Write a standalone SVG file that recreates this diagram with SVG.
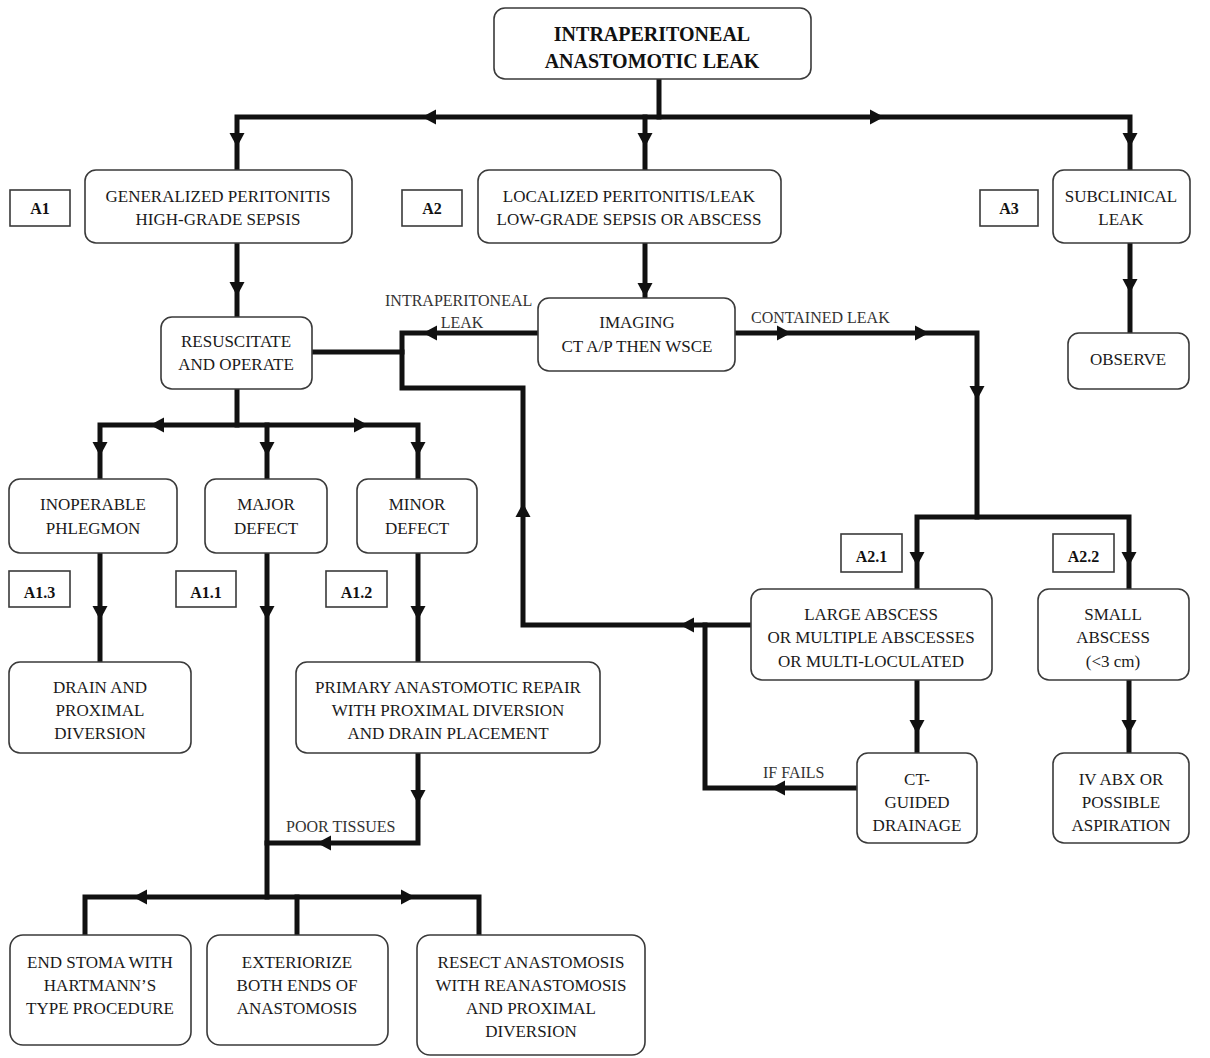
<svg xmlns="http://www.w3.org/2000/svg" xmlns:xlink="http://www.w3.org/1999/xlink" width="1210" height="1058" viewBox="0 0 1210 1058">
<style>
.box{fill:#fff;stroke:#3a3a3a;stroke-width:1.6}
.lab{fill:#fff;stroke:#3a3a3a;stroke-width:1.6}
.t{font-family:"Liberation Serif","Times New Roman",serif;font-size:17px;fill:#1a1a1a;text-anchor:middle}
.tb{font-family:"Liberation Serif","Times New Roman",serif;font-size:16px;font-weight:bold;fill:#111;text-anchor:middle}
.title{font-family:"Liberation Serif","Times New Roman",serif;font-size:20px;font-weight:bold;fill:#111;text-anchor:middle}
.cl{font-family:"Liberation Serif","Times New Roman",serif;font-size:16px;fill:#333}
.ln{fill:none;stroke:#111;stroke-width:5;stroke-linejoin:miter;stroke-linecap:square}
.ah{fill:#111}
</style>
<defs>
<path id="ah" d="M0,0 L-14,-7.5 L-14,7.5 Z"/>
</defs>
<rect width="1210" height="1058" fill="#fff"/>
<g id="connectors">
<path class="ln" d="M659,80 V117"/>
<path class="ln" d="M237,168 V117 H1130 V168"/>
<path class="ln" d="M645,117 V168"/>
<path class="ln" d="M237,245 V315"/>
<path class="ln" d="M645,245 V296"/>
<path class="ln" d="M1130,245 V331"/>
<path class="ln" d="M314,352 H402"/>
<path class="ln" d="M536,333 H402 V388 H523 V625 H749"/>
<path class="ln" d="M737,333 H977 V517"/>
<path class="ln" d="M917,587 V517 H1129 V587"/>
<path class="ln" d="M855,788 H705 V625"/>
<path class="ln" d="M917,682 V751"/>
<path class="ln" d="M1129,682 V751"/>
<path class="ln" d="M237,391 V425"/>
<path class="ln" d="M100,477 V425 H418 V477"/>
<path class="ln" d="M267,425 V477"/>
<path class="ln" d="M100,555 V660"/>
<path class="ln" d="M267,555 V897"/>
<path class="ln" d="M418,555 V660"/>
<path class="ln" d="M418,755 V843 H267"/>
<path class="ln" d="M85,933 V897 H479 V933"/>
<path class="ln" d="M297,897 V933"/>
<g class="ah">
<use xlink:href="#ah" transform="translate(422,117) rotate(180)"/>
<use xlink:href="#ah" transform="translate(884,117)"/>
<use xlink:href="#ah" transform="translate(237,147) rotate(90)"/>
<use xlink:href="#ah" transform="translate(645,147) rotate(90)"/>
<use xlink:href="#ah" transform="translate(1130,147) rotate(90)"/>
<use xlink:href="#ah" transform="translate(237,296) rotate(90)"/>
<use xlink:href="#ah" transform="translate(645,297) rotate(90)"/>
<use xlink:href="#ah" transform="translate(1130,293) rotate(90)"/>
<use xlink:href="#ah" transform="translate(423,333) rotate(180)"/>
<use xlink:href="#ah" transform="translate(791,333)"/>
<use xlink:href="#ah" transform="translate(929,333)"/>
<use xlink:href="#ah" transform="translate(977,400) rotate(90)"/>
<use xlink:href="#ah" transform="translate(917,566) rotate(90)"/>
<use xlink:href="#ah" transform="translate(1129,566) rotate(90)"/>
<use xlink:href="#ah" transform="translate(523,503) rotate(-90)"/>
<use xlink:href="#ah" transform="translate(680,625) rotate(180)"/>
<use xlink:href="#ah" transform="translate(771,788) rotate(180)"/>
<use xlink:href="#ah" transform="translate(917,734) rotate(90)"/>
<use xlink:href="#ah" transform="translate(1129,734) rotate(90)"/>
<use xlink:href="#ah" transform="translate(150,425) rotate(180)"/>
<use xlink:href="#ah" transform="translate(368,425)"/>
<use xlink:href="#ah" transform="translate(100,456) rotate(90)"/>
<use xlink:href="#ah" transform="translate(267,456) rotate(90)"/>
<use xlink:href="#ah" transform="translate(418,456) rotate(90)"/>
<use xlink:href="#ah" transform="translate(100,620) rotate(90)"/>
<use xlink:href="#ah" transform="translate(267,620) rotate(90)"/>
<use xlink:href="#ah" transform="translate(418,620) rotate(90)"/>
<use xlink:href="#ah" transform="translate(418,804) rotate(90)"/>
<use xlink:href="#ah" transform="translate(317,843) rotate(180)"/>
<use xlink:href="#ah" transform="translate(133,897) rotate(180)"/>
<use xlink:href="#ah" transform="translate(415,897)"/>
</g>
<text class="cl" x="385" y="306">INTRAPERITONEAL</text>
<text class="cl" x="462" y="328" text-anchor="middle">LEAK</text>
<text class="cl" x="751" y="323">CONTAINED LEAK</text>
<text class="cl" x="763" y="778">IF FAILS</text>
<text class="cl" x="286" y="832">POOR TISSUES</text>
</g>
<g id="n-top"><rect class="box" x="494" y="8" width="317" height="71" rx="11"/>
<text class="title" x="652" y="41">INTRAPERITONEAL</text><text class="title" x="652" y="68">ANASTOMOTIC LEAK</text></g>
<g id="n-a1"><rect class="box" x="85" y="170" width="267" height="73" rx="11"/>
<text class="t" x="218" y="202">GENERALIZED PERITONITIS</text><text class="t" x="218" y="225">HIGH-GRADE SEPSIS</text></g>
<g id="n-a2"><rect class="box" x="478" y="170" width="303" height="73" rx="11"/>
<text class="t" x="629" y="202">LOCALIZED PERITONITIS/LEAK</text><text class="t" x="629" y="225">LOW-GRADE SEPSIS OR ABSCESS</text></g>
<g id="n-a3"><rect class="box" x="1053" y="170" width="137" height="73" rx="11"/>
<text class="t" x="1121" y="202">SUBCLINICAL</text><text class="t" x="1121" y="225">LEAK</text></g>
<g id="l-a1"><rect class="lab" x="10" y="190" width="60" height="36"/><text class="tb" x="40" y="214">A1</text></g>
<g id="l-a2"><rect class="lab" x="402" y="190" width="60" height="36"/><text class="tb" x="432" y="214">A2</text></g>
<g id="l-a3"><rect class="lab" x="980" y="190" width="58" height="36"/><text class="tb" x="1009" y="214">A3</text></g>
<g id="n-resus"><rect class="box" x="161" y="317" width="151" height="72" rx="11"/>
<text class="t" x="236" y="347">RESUSCITATE</text><text class="t" x="236" y="370">AND OPERATE</text></g>
<g id="n-imaging"><rect class="box" x="538" y="298" width="197" height="73" rx="11"/>
<text class="t" x="637" y="328">IMAGING</text><text class="t" x="637" y="352">CT A/P THEN WSCE</text></g>
<g id="n-observe"><rect class="box" x="1068" y="333" width="121" height="56" rx="11"/>
<text class="t" x="1128" y="365">OBSERVE</text></g>
<g id="n-inop"><rect class="box" x="9" y="479" width="168" height="74" rx="11"/>
<text class="t" x="93" y="510">INOPERABLE</text><text class="t" x="93" y="534">PHLEGMON</text></g>
<g id="n-major"><rect class="box" x="205" y="479" width="122" height="74" rx="11"/>
<text class="t" x="266" y="510">MAJOR</text><text class="t" x="266" y="534">DEFECT</text></g>
<g id="n-minor"><rect class="box" x="357" y="479" width="120" height="74" rx="11"/>
<text class="t" x="417" y="510">MINOR</text><text class="t" x="417" y="534">DEFECT</text></g>
<g id="l-a13"><rect class="lab" x="9" y="571" width="61" height="36"/><text class="tb" x="39.5" y="598">A1.3</text></g>
<g id="l-a11"><rect class="lab" x="176" y="571" width="60" height="36"/><text class="tb" x="206" y="598">A1.1</text></g>
<g id="l-a12"><rect class="lab" x="326" y="571" width="61" height="36"/><text class="tb" x="356.5" y="598">A1.2</text></g>
<g id="n-drain"><rect class="box" x="9" y="662" width="182" height="91" rx="11"/>
<text class="t" x="100" y="693">DRAIN AND</text><text class="t" x="100" y="716">PROXIMAL</text><text class="t" x="100" y="739">DIVERSION</text></g>
<g id="n-primary"><rect class="box" x="296" y="662" width="304" height="91" rx="11"/>
<text class="t" x="448" y="693">PRIMARY ANASTOMOTIC REPAIR</text><text class="t" x="448" y="716">WITH PROXIMAL DIVERSION</text><text class="t" x="448" y="739">AND DRAIN PLACEMENT</text></g>
<g id="l-a21"><rect class="lab" x="841" y="534" width="61" height="38"/><text class="tb" x="871.5" y="562">A2.1</text></g>
<g id="l-a22"><rect class="lab" x="1053" y="534" width="61" height="38"/><text class="tb" x="1083.5" y="562">A2.2</text></g>
<g id="n-large"><rect class="box" x="751" y="589" width="241" height="91" rx="11"/>
<text class="t" x="871" y="620">LARGE ABSCESS</text><text class="t" x="871" y="643">OR MULTIPLE ABSCESSES</text><text class="t" x="871" y="667">OR MULTI-LOCULATED</text></g>
<g id="n-small"><rect class="box" x="1038" y="589" width="151" height="91" rx="11"/>
<text class="t" x="1113" y="620">SMALL</text><text class="t" x="1113" y="643">ABSCESS</text><text class="t" x="1113" y="667">(&lt;3 cm)</text></g>
<g id="n-ct"><rect class="box" x="857" y="753" width="120" height="90" rx="11"/>
<text class="t" x="917" y="785">CT-</text><text class="t" x="917" y="808">GUIDED</text><text class="t" x="917" y="831">DRAINAGE</text></g>
<g id="n-iv"><rect class="box" x="1053" y="753" width="136" height="90" rx="11"/>
<text class="t" x="1121" y="785">IV ABX OR</text><text class="t" x="1121" y="808">POSSIBLE</text><text class="t" x="1121" y="831">ASPIRATION</text></g>
<g id="n-endstoma"><rect class="box" x="10" y="935" width="181" height="110" rx="13"/>
<text class="t" x="100" y="968">END STOMA WITH</text><text class="t" x="100" y="991">HARTMANN’S</text><text class="t" x="100" y="1014">TYPE PROCEDURE</text></g>
<g id="n-exteriorize"><rect class="box" x="207" y="935" width="181" height="110" rx="13"/>
<text class="t" x="297" y="968">EXTERIORIZE</text><text class="t" x="297" y="991">BOTH ENDS OF</text><text class="t" x="297" y="1014">ANASTOMOSIS</text></g>
<g id="n-resect"><rect class="box" x="417" y="935" width="228" height="120" rx="13"/>
<text class="t" x="531" y="968">RESECT ANASTOMOSIS</text><text class="t" x="531" y="991">WITH REANASTOMOSIS</text><text class="t" x="531" y="1014">AND PROXIMAL</text><text class="t" x="531" y="1037">DIVERSION</text></g>
</svg>
